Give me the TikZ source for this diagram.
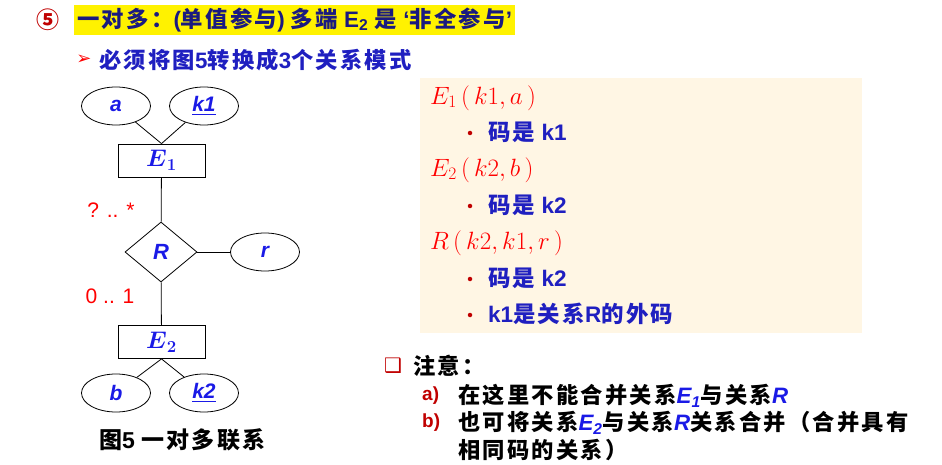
\documentclass[tikz,border=0pt]{standalone}
\usepackage{fix-cm}
\usepackage{amsmath}
\usepackage{fontspec}
\setmainfont{Liberation Sans}
\newfontfamily\cjk{Noto Sans CJK SC}[LetterSpace=10]
\newfontfamily\sym{DejaVu Sans}
\usetikzlibrary{shapes.geometric}

\definecolor{navy}{HTML}{1A1A80}
\definecolor{ink}{HTML}{1F1FC0}
\definecolor{erblue}{HTML}{1A1AE6}
\definecolor{darkred}{HTML}{C00000}
\definecolor{cream}{HTML}{FFF6E4}

\newcommand{\fs}[1]{\fontsize{#1}{#1}\selectfont}

\tikzset{
  attr/.style={draw, line width=0.8pt, ellipse, minimum width=69pt, minimum height=38pt, inner sep=0pt,
    text=erblue, font=\fs{21}\bfseries\itshape},
  entity/.style={draw, line width=0.8pt, rectangle, minimum width=87pt, minimum height=33pt, inner sep=0pt,
    text=erblue, font=\fs{24}},
  relship/.style={draw, line width=0.8pt, diamond, minimum width=72pt, minimum height=60pt, inner sep=0pt,
    text=erblue, font=\fs{22}\bfseries\itshape},
  link/.style={line width=0.8pt},
  card/.style={text=red, font=\fs{21}},
  schema/.style={anchor=west, inner sep=0pt, text=red, font=\fs{25}},
  keyline/.style={anchor=west, inner sep=0pt, text=ink, font=\fs{22.5}\bfseries},
  bul/.style={circle, fill=darkred, inner sep=0pt, minimum size=4.5pt},
  note/.style={anchor=west, inner sep=0pt, font=\fs{22.3}\bfseries},
  itemlbl/.style={anchor=west, inner sep=0pt, text=darkred, font=\fs{19}\bfseries}
}

\begin{document}
\begin{tikzpicture}[x=1pt, y=-1pt]
\useasboundingbox (0,0) rectangle (942,465);

% Heading
\node[text=darkred, font=\fs{23}\bfseries] (num) at (48,20) {\cjk ⑤};
\node[fill=yellow, anchor=west, inner xsep=3pt, minimum height=27pt, text=navy,
  font=\fs{22.4}\bfseries] (title) at (74,20)
  {{\cjk 一对多：}({\cjk 单值参与}) {\cjk 多端} E\textsubscript{2} {\cjk 是} ‘{\cjk 非全参与}’};
\node[text=red, font=\fs{18}] (arr) at (84,60) {\sym ➢};
\node[anchor=west, inner sep=0pt, text=ink, font=\fs{22.3}\bfseries] (task) at (99,60)
  {{\cjk 必须将图}5{\cjk 转换成}3{\cjk 个关系模式}};

% ER diagram
\node[attr] (a) at (116,106) {a};
\node[attr] (k1) at (204,106) {\underline{k1}};
\node[entity] (E1) at (161.5,160.5) {$\boldsymbol{E}_{\boldsymbol{1}}$};
\node[relship] (R) at (161,252) {R};
\node[attr] (r) at (265,252) {r};
\node[entity] (E2) at (161.5,342) {$\boldsymbol{E}_{\boldsymbol{2}}$};
\node[attr] (b) at (116,393) {b};
\node[attr] (k2) at (204,393) {\underline{k2}};

\draw[link] (E1.north) -- (a);
\draw[link] (E1.north) -- (k1);
\draw[link] (E1) -- (R);
\draw[link] (R) -- (r);
\draw[link] (R) -- (E2);
\draw[link] (E2.south) -- (b);
\draw[link] (E2.south) -- (k2);

% Cardinalities
\node[card] (c1) at (111,210) {? .. *};
\node[card] (c2) at (110,296) {0 .. 1};

% Caption
\node[anchor=west, inner sep=0pt, font=\fs{23}\bfseries] (cap) at (99,440)
  {{\cjk 图}5 {\cjk 一对多联系}};

% Relation schemas
\node[fill=cream, anchor=north west, minimum width=442pt, minimum height=255pt] (box) at (420,78) {};
\node[schema] (s1) at (430,98) {$E_1\,(\,k1, a\,)$};
\node[bul] (b1) at (470,133) {};
\node[keyline] (t1) at (488,132) {{\cjk 码是} k1};
\node[schema] (s2) at (430,170) {$E_2\,(\,k2, b\,)$};
\node[bul] (b2) at (470,206) {};
\node[keyline] (t2) at (488,205) {{\cjk 码是} k2};
\node[schema] (s3) at (430,243) {$R\,(\,k2, k1, r\,)$};
\node[bul] (b3) at (470,279) {};
\node[keyline] (t3) at (488,278) {{\cjk 码是} k2};
\node[bul] (b4) at (470,315) {};
\node[keyline] (t4) at (488,314) {k1{\cjk 是关系}R{\cjk 的外码}};

% Notes
\node[text=darkred, font=\fs{20}] (box2) at (393,366) {\sym ❑};
\node[note] (n0) at (413,366) {\cjk 注意：};
\node[itemlbl] (ma) at (422,396) {a)};
\node[note] (na) at (458,396)
  {{\cjk 在这里不能合并关系}\textcolor{erblue}{\itshape E\textsubscript{1}}{\cjk 与关系}\textcolor{erblue}{\itshape R}};
\node[itemlbl] (mb) at (422,423) {b)};
\node[note] (nb) at (458,423)
  {{\cjk 也可将关系}\textcolor{erblue}{\itshape E\textsubscript{2}}{\cjk 与关系}\textcolor{erblue}{\itshape R}{\cjk 关系合并（合并具有}};
\node[note] (nc) at (458,450) {\cjk 相同码的关系）};

\end{tikzpicture}
\end{document}
